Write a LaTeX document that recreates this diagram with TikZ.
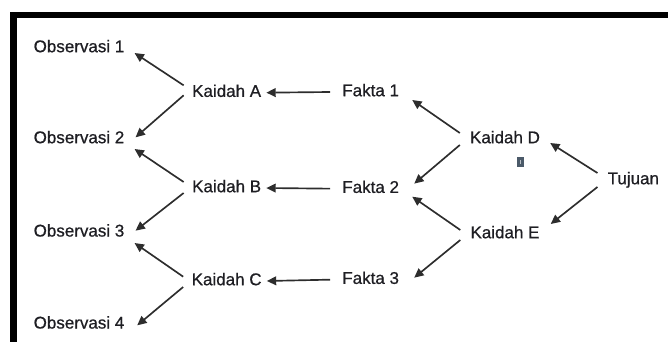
\documentclass[tikz,border=0pt]{standalone}
\usepackage{fontspec}
\setmainfont{Liberation Sans}
\newfontfamily\termfont{Liberation Sans}[FakeBold=0.7]
\usepackage{tikz}
\usetikzlibrary{arrows.meta}
\definecolor{ink}{RGB}{30,30,35}
\definecolor{wire}{RGB}{45,45,45}
\definecolor{speck}{RGB}{75,90,105}
\tikzstyle{term} = [inner sep=0pt, text height=0.72em, text depth=0pt, text=ink, font=\termfont\fontsize{14.5}{16}\selectfont]
\tikzstyle{arrow} = [line width=0.05cm, draw=wire, -{Triangle[length=2.8mm,width=2.6mm]}]

\begin{document}
\begin{tikzpicture}[node distance=2.8cm]
\useasboundingbox (0,0) rectangle (20.04,-10.26);
\draw[line width=0.19cm, line join=miter] (0.40,-11) -- (0.40,-0.445) -- (21,-0.445);

% observasi
\node (obs1) [term] at (2.37,-1.44) {Observasi 1};
\node (obs2) [term, below of=obs1, yshift=0.07cm] {Observasi 2};
\node (obs3) [term, below of=obs2] {Observasi 3};
\node (obs4) [term, below of=obs3, yshift=0.04cm] {Observasi 4};

% kaidah A, B, C
\node (kA) [term] at (6.80,-2.78) {Kaidah A};
\node (kB) [term, below of=kA, yshift=-0.06cm] {Kaidah B};
\node (kC) [term, below of=kB, yshift=0.01cm] {Kaidah C};

% fakta
\node (f1) [term] at (11.12,-2.76) {Fakta 1};
\node (f2) [term, below of=f1, yshift=-0.1cm] {Fakta 2};
\node (f3) [term, below of=f2, yshift=0.07cm] {Fakta 3};

% kaidah D, E and goal
\node (kD) [term] at (15.15,-4.17) {Kaidah D};
\node (kE) [term, below of=kD, yshift=-0.05cm] {Kaidah E};
\node (goal) [term] at (19.0,-5.40) {Tujuan};

\fill[speck] (15.51,-4.71) rectangle (15.72,-5.01);
\fill[speck!40!white] (15.60,-4.80) rectangle (15.63,-4.92);

\draw [arrow] ([xshift=-0.25cm,yshift=0.22cm]kA.west) -- ([xshift=0.3cm,yshift=-0.15cm]obs1.east);
\draw [arrow] ([xshift=-0.25cm,yshift=-0.08cm]kA.west) -- ([xshift=0.33cm,yshift=0.05cm]obs2.east);
\draw [arrow] ([xshift=-0.25cm,yshift=0.18cm]kB.west) -- ([xshift=0.3cm,yshift=-0.3cm]obs2.east);
\draw [arrow] ([xshift=-0.25cm,yshift=-0.15cm]kB.west) -- ([xshift=0.33cm,yshift=0.05cm]obs3.east);
\draw [arrow] ([xshift=-0.25cm,yshift=0.13cm]kC.west) -- ([xshift=0.3cm,yshift=-0.32cm]obs3.east);
\draw [arrow] ([xshift=-0.25cm,yshift=-0.18cm]kC.west) -- ([xshift=0.38cm,yshift=-0.03cm]obs4.east);

\draw [arrow] ([xshift=-0.36cm]f1.west) -- ([xshift=0.15cm]kA.east);
\draw [arrow] ([xshift=-0.36cm]f2.west) -- ([xshift=0.15cm]kB.east);
\draw [arrow] ([xshift=-0.36cm]f3.west) -- ([xshift=0.15cm]kC.east);

\draw [arrow] ([xshift=-0.3cm,yshift=0.18cm]kD.west) -- ([xshift=0.39cm,yshift=-0.24cm]f1.east);
\draw [arrow] ([xshift=-0.3cm,yshift=-0.18cm]kD.west) -- ([xshift=0.45cm,yshift=0.15cm]f2.east);
\draw [arrow] ([xshift=-0.3cm,yshift=0.12cm]kE.west) -- ([xshift=0.39cm,yshift=-0.24cm]f2.east);
\draw [arrow] ([xshift=-0.3cm,yshift=-0.18cm]kE.west) -- ([xshift=0.45cm,yshift=0.06cm]f3.east);

\draw [arrow] ([xshift=-0.3cm,yshift=0.21cm]goal.west) -- ([xshift=0.3cm,yshift=-0.12cm]kD.east);
\draw [arrow] ([xshift=-0.3cm,yshift=-0.21cm]goal.west) -- ([xshift=0.33cm,yshift=0.3cm]kE.east);

\end{tikzpicture}
\end{document}
